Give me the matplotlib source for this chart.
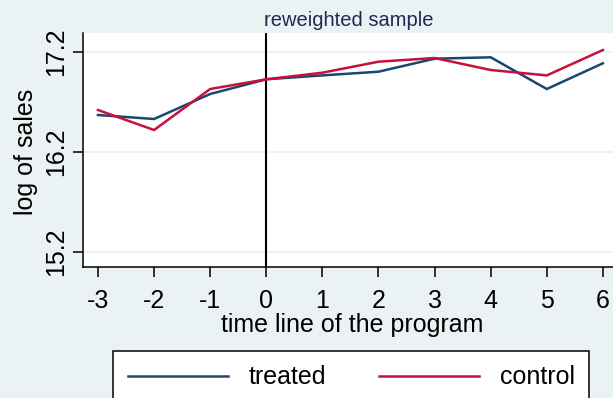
import matplotlib
matplotlib.use("Agg")
import matplotlib.pyplot as plt
from matplotlib.lines import Line2D

plt.rcParams['font.family'] = ['Liberation Sans', 'DejaVu Sans']

time = [-3, -2, -1, 0, 1, 2, 3, 4, 5, 6]
treated = [16.567, 16.527, 16.777, 16.924, 16.963, 17.000, 17.130, 17.144, 16.827, 17.084]
control = [16.617, 16.417, 16.827, 16.924, 16.990, 17.100, 17.137, 17.017, 16.963, 17.217]
yticks = [15.2, 16.2, 17.2]
xticks = time

W, H = 613, 398
bg = '#eaf2f3'
blue = '#1a476f'
red = '#c8103c'
FS = 18

fig = plt.figure(figsize=(W/100, H/100), dpi=100, facecolor=bg)
ax = fig.add_axes([82.7/W, 1-266.7/H, 1-82.7/W, (266.7-33.3)/H])
ax.set_facecolor('white')

for v in yticks:
    ax.axhline(v, color=bg, lw=1.5, zorder=0)
ax.axvline(0, color='black', lw=1.5, zorder=1)
ax.plot(time, treated, color=blue, lw=1.8, zorder=2)
ax.plot(time, control, color=red, lw=1.8, zorder=3)

ax.set_xlim(-3.272, 6.18)
ax.set_ylim(15.05, 17.384)
ax.set_xticks(xticks)
ax.set_xticklabels([str(t) for t in xticks])
ax.set_yticks(yticks)
ax.set_yticklabels([f'{v:.1f}' for v in yticks], rotation=90, va='center')

for s in ['top', 'right']:
    ax.spines[s].set_visible(False)
for s in ['left', 'bottom']:
    ax.spines[s].set_color('black')
    ax.spines[s].set_linewidth(1.1)
ax.tick_params(axis='both', direction='out', length=7.2, width=1.1, colors='black', labelsize=FS)
ax.tick_params(axis='x', pad=8.5)
ax.tick_params(axis='y', pad=3.4)

fig.text(352/W, 1-331.7/H, 'time line of the program', fontsize=FS, ha='center', va='baseline')
fig.text(26.5/W, 1-152/H, 'log of sales', fontsize=FS, ha='center', va='center', rotation=90)
fig.text(349/W, 1-25.7/H, 'reweighted sample', fontsize=14.5, color='#1e2a50', ha='center', va='baseline')

handles = [Line2D([], [], color=blue, lw=1.8), Line2D([], [], color=red, lw=1.8)]
leg = fig.legend(handles, ['treated', 'control'], loc='upper center',
                 bbox_to_anchor=(351.2/W, 1-351/H), ncol=2, fontsize=FS,
                 frameon=True, fancybox=False, edgecolor='black', facecolor='white',
                 handlelength=4.0, handletextpad=0.84, columnspacing=2.1, borderpad=0.58,
                 borderaxespad=0, framealpha=1)
leg.get_frame().set_linewidth(1.1)

fig.savefig('out.png', dpi=100, facecolor=bg)
